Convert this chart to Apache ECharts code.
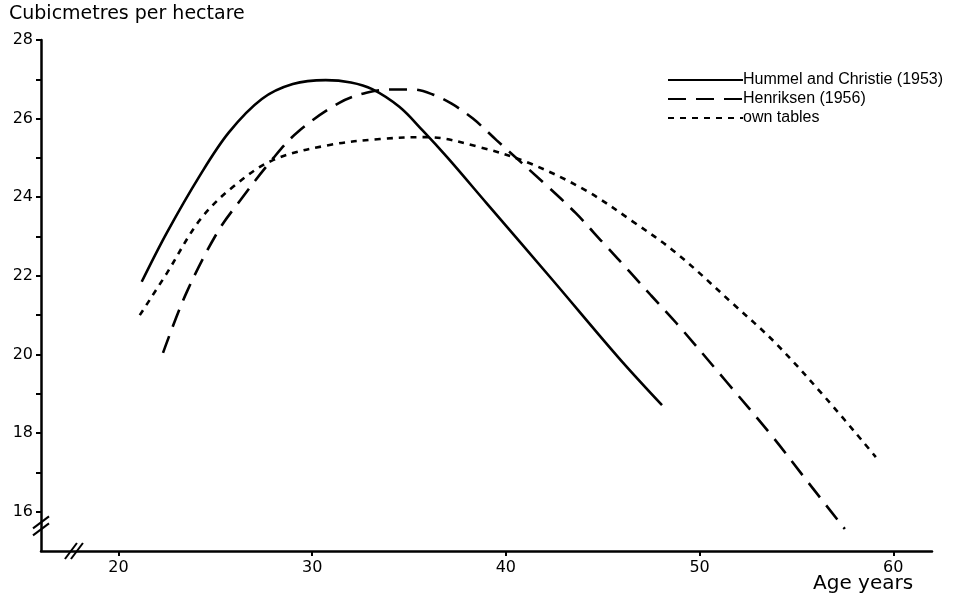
<!DOCTYPE html>
<html>
<head>
<meta charset="utf-8">
<script src="https://cdn.jsdelivr.net/npm/echarts@6/dist/echarts.min.js"></script>
<style>
  html, body { margin: 0; padding: 0; background: #fff; }
  #chart { width: 962px; height: 597px; }
</style>
</head>
<body>
<div id="chart"></div>
<script>
// values: [age, m3 per ha]
var hummel = [[21.2,21.85],[22.5,23.1],[24.2,24.55],[25.7,25.65],[27.4,26.5],[29,26.88],[30.7,26.98],[32,26.92],[33.1,26.75],[34.5,26.3],[35.7,25.7],[37,25.0],[39,23.85],[42.4,21.9],[45.85,19.9],[48.06,18.71]]
var henriksen = [[22.3,20.04],[23.5,21.56],[25.1,23.1],[26.3,23.93],[28,25.0],[29.3,25.68],[31.4,26.4],[32.8,26.66],[34,26.74],[35.2,26.74],[36.2,26.62],[37.2,26.38],[38.3,26.0],[39.5,25.46],[42.1,24.3],[43.6,23.6],[45,22.85],[46.4,22.1],[47.5,21.5],[48.8,20.8],[51.4,19.3],[53.7,17.95],[55.6,16.75],[57.5,15.56]]
var ownTables = [[21.1,21.0],[22.5,22.07],[24.2,23.42],[25.9,24.26],[28,24.95],[30.9,25.33],[33.5,25.48],[35.9,25.53],[38.6,25.28],[41.2,24.87],[44.1,24.18],[46.5,23.4],[48.8,22.58],[51.7,21.3],[53.9,20.3],[56.5,18.9],[59.1,17.39]]

var seriesNames = ['Hummel and Christie (1953)', 'Henriksen (1956)', 'own tables']
var xTicks = [20, 30, 40, 50, 60]
var yTicks = [16, 17, 18, 19, 20, 21, 22, 23, 24, 25, 26, 27, 28]
var yLabels = [16, 18, 20, 22, 24, 26, 28]

var font = 'DejaVu Sans'
var chart = echarts.init(document.getElementById('chart'))

function lineSeries(name, data, dash) {
  return {
    name: name,
    type: 'line',
    data: data,
    smooth: 0.35,
    showSymbol: false,
    symbol: 'none',
    lineStyle: { color: '#000', width: 2.6, type: dash },
    itemStyle: { color: '#000' }
  }
}

var option = {
  backgroundColor: '#fff',
  animation: false,
  grid: { left: 41, right: 30, top: 40, bottom: 46 },
  legend: {
    orient: 'vertical',
    left: 662,
    top: 67,
    itemWidth: 75,
    itemHeight: 10,
    itemGap: 3,
    itemStyle: { opacity: 0 },
    textStyle: { fontFamily: 'Liberation Sans', fontSize: 16, color: '#000', padding: [0, 0, 0, -5] },
    data: seriesNames
  },
  xAxis: {
    type: 'value',
    min: 16,
    max: 62,
    splitLine: { show: false },
    axisLine: { lineStyle: { color: '#000', width: 2.5 } },
    axisTick: { customValues: xTicks, length: 5, lineStyle: { color: '#000', width: 2 } },
    axisLabel: { customValues: xTicks, fontFamily: font, fontSize: 16, color: '#000', margin: 9 }
  },
  yAxis: {
    type: 'value',
    min: 15,
    max: 28,
    splitLine: { show: false },
    axisLine: { show: true, lineStyle: { color: '#000', width: 2.5 } },
    axisTick: { customValues: yTicks, length: 5, lineStyle: { color: '#000', width: 2 } },
    axisLabel: { customValues: yLabels, fontFamily: font, fontSize: 16, color: '#000', margin: 8 }
  },
  series: [
    lineSeries(seriesNames[0], hummel, 'solid'),
    lineSeries(seriesNames[1], henriksen, [18, 10]),
    lineSeries(seriesNames[2], ownTables, [6, 6])
  ]
}
chart.setOption(option)

// axis break marks and text labels
var yb = chart.convertToPixel({ gridIndex: 0 }, [16, 15.55])
var xb = chart.convertToPixel({ gridIndex: 0 }, [17.7, 15])
function slash(cx, cy, dx) {
  return { type: 'line', shape: { x1: cx + dx - 6, y1: cy + 8, x2: cx + dx + 6, y2: cy - 8 },
    style: { stroke: '#000', lineWidth: 2 } }
}
chart.setOption({
  graphic: [
    { type: 'rect', shape: { x: yb[0] - 3, y: yb[1] - 3, width: 6, height: 7 }, style: { fill: '#fff' } },
    { type: 'line', shape: { x1: yb[0] - 8, y1: yb[1] + 6, x2: yb[0] + 8, y2: yb[1] - 6 }, style: { stroke: '#000', lineWidth: 2 } },
    { type: 'line', shape: { x1: yb[0] - 8, y1: yb[1] - 1, x2: yb[0] + 8, y2: yb[1] - 13 }, style: { stroke: '#000', lineWidth: 2 } },
    { type: 'rect', shape: { x: xb[0] - 3, y: xb[1] - 3, width: 7, height: 6 }, style: { fill: '#fff' } },
    slash(xb[0], xb[1], -3),
    slash(xb[0], xb[1], 3),
    { type: 'text', left: 9, top: 5, style: { text: 'Cubicmetres per hectare', fontFamily: font, fontSize: 19, fill: '#000' } },
    { type: 'text', left: 813, top: 574, style: { text: 'Age years', fontFamily: font, fontSize: 20, fill: '#000' } }
  ]
})
</script>
</body>
</html>
